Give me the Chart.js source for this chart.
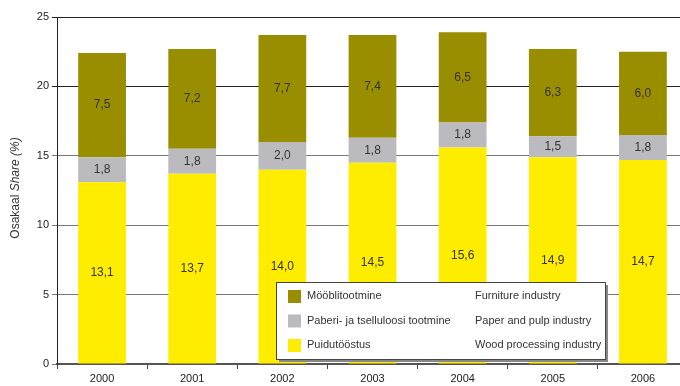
<!DOCTYPE html>
<html>
<head>
<meta charset="utf-8">
<script src="https://cdn.jsdelivr.net/npm/chart.js@4.4.1/dist/chart.umd.min.js"></script>
<style>
  html, body { margin: 0; padding: 0; background: #fff; }
  #wrap { width: 680px; height: 386px; overflow: hidden; position: relative; }
  canvas { display: block; }
</style>
</head>
<body>
<div id="wrap"><canvas id="c" width="688" height="386"></canvas></div>
<script>
// data
var years = ['2000', '2001', '2002', '2003', '2004', '2005', '2006'];
var wood = [13.1, 13.7, 14.0, 14.5, 15.6, 14.9, 14.7];
var paper = [1.8, 1.8, 2.0, 1.8, 1.8, 1.5, 1.8];
var furniture = [7.5, 7.2, 7.7, 7.4, 6.5, 6.3, 6.0];
var yTicks = [0, 5, 10, 15, 20, 25];

var namesEt = ['Puidutööstus', 'Paberi- ja tselluloosi tootmine', 'Mööblitootmine'];
var namesEn = ['Wood processing industry', 'Paper and pulp industry', 'Furniture industry'];
var colors = ['#FFED00', '#BBBBBF', '#998E00'];

var FONT = '"Liberation Sans", Arial, sans-serif';

function fmt(v) {
  return v.toFixed(1).replace('.', ',');
}

// value labels in the middle of each segment
var segLabels = {
  id: 'segLabels',
  afterDatasetsDraw: function (chart) {
    var ctx = chart.ctx;
    ctx.save();
    ctx.font = '12px ' + FONT;
    ctx.fillStyle = '#333';
    ctx.textAlign = 'center';
    ctx.textBaseline = 'middle';
    chart.data.datasets.forEach(function (ds, i) {
      var meta = chart.getDatasetMeta(i);
      meta.data.forEach(function (bar, j) {
        ctx.fillText(fmt(ds.data[j]), bar.x, (bar.y + bar.base) / 2);
      });
    });
    ctx.restore();
  }
};

// y axis title with italic english part
var yTitle = {
  id: 'yTitle',
  afterDraw: function (chart) {
    var ctx = chart.ctx;
    var a = 'Osakaal ', b = 'Share (%)';
    ctx.save();
    ctx.translate(16, 188);
    ctx.rotate(-Math.PI / 2);
    ctx.fillStyle = '#333';
    ctx.textBaseline = 'middle';
    ctx.font = '12px ' + FONT;
    var wa = ctx.measureText(a).width;
    ctx.font = 'italic 12px ' + FONT;
    var wb = ctx.measureText(b).width;
    var x0 = -(wa + wb) / 2;
    ctx.font = '12px ' + FONT;
    ctx.fillText(a, x0, 0);
    ctx.font = 'italic 12px ' + FONT;
    ctx.fillText(b, x0 + wa, 0);
    ctx.restore();
  }
};

// boxed legend, two columns (estonian / english), furniture on top
var boxLegend = {
  id: 'boxLegend',
  afterDraw: function (chart) {
    var ctx = chart.ctx;
    var bx = 276, by = 282, bw = 329, bh = 77;
    ctx.save();
    ctx.fillStyle = '#888';
    ctx.fillRect(bx + 3, by + 3, bw, bh);
    ctx.fillStyle = '#fff';
    ctx.fillRect(bx, by, bw, bh);
    ctx.strokeStyle = '#444';
    ctx.lineWidth = 1;
    ctx.strokeRect(bx + 0.5, by + 0.5, bw, bh);
    ctx.font = '11px ' + FONT;
    ctx.textBaseline = 'middle';
    var order = [2, 1, 0];
    order.forEach(function (k, r) {
      var yy = by + 14 + r * 24.5;
      ctx.fillStyle = chart.data.datasets[k].backgroundColor;
      ctx.fillRect(bx + 12, yy - 6, 13, 13);
      ctx.fillStyle = '#333';
      ctx.fillText(namesEt[k], bx + 31, yy);
      ctx.fillText(namesEn[k], bx + 199, yy);
    });
    ctx.restore();
  }
};

new Chart(document.getElementById('c'), {
  type: 'bar',
  data: {
    labels: years,
    datasets: [
      { label: namesEt[0], data: wood, backgroundColor: colors[0] },
      { label: namesEt[1], data: paper, backgroundColor: colors[1] },
      { label: namesEt[2], data: furniture, backgroundColor: colors[2] }
    ]
  },
  options: {
    responsive: false,
    animation: false,
    events: [],
    categoryPercentage: 1,
    barPercentage: 0.53,
    layout: { padding: { top: 17, right: 0, left: 0, bottom: 0 } },
    plugins: {
      legend: { display: false },
      tooltip: { enabled: false }
    },
    scales: {
      x: {
        stacked: true,
        grid: {
          offset: true,
          drawOnChartArea: false,
          drawTicks: true,
          tickLength: 5,
          color: '#444'
        },
        border: { color: '#555', width: 2 },
        ticks: {
          color: '#222',
          font: { size: 11, family: FONT },
          padding: 3,
          maxRotation: 0
        },
        afterFit: function (s) { s.height = 22; }
      },
      y: {
        stacked: true,
        min: 0,
        max: 25,
        afterBuildTicks: function (s) {
          s.ticks = yTicks.map(function (v) { return { value: v }; });
        },
        grid: {
          color: function (c) { return c.tick && c.tick.value >= 20 ? '#222' : '#777'; },
          lineWidth: 1,
          tickLength: 5
        },
        border: { color: '#222', width: 1 },
        ticks: {
          color: '#222',
          font: { size: 11, family: FONT },
          padding: 3
        },
        afterFit: function (s) { s.width = 57; }
      }
    }
  },
  plugins: [segLabels, yTitle, boxLegend]
});
</script>
</body>
</html>
